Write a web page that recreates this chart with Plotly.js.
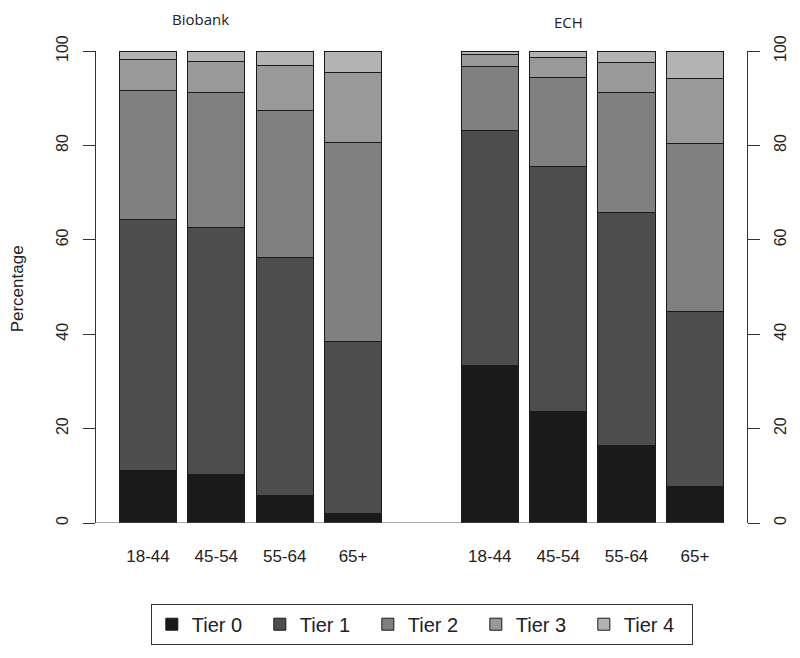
<!DOCTYPE html>
<html>
<head>
<meta charset="utf-8">
<script src="https://cdn.plot.ly/plotly-3.0.1.min.js"></script>
<style>html,body{margin:0;padding:0;background:#fff;}#chart{width:800px;height:658px;}</style>
</head>
<body>
<div id="chart"></div>
<script>
// ---- data (percentages) ----
const groups = ['Biobank', 'ECH'];
const ageGroups = ['18-44', '45-54', '55-64', '65+'];
const tierNames = ['Tier 0', 'Tier 1', 'Tier 2', 'Tier 3', 'Tier 4'];

// Biobank values per age group
const biobankTier0 = [11.2, 10.3, 5.9, 2.0];
const biobankTier1 = [53.2, 52.3, 50.3, 36.5];
const biobankTier2 = [27.3, 28.6, 31.2, 42.2];
const biobankTier3 = [6.5, 6.6, 9.6, 14.8];
const biobankTier4 = [1.8, 2.2, 3.0, 4.5];

// ECH values per age group
const echTier0 = [33.3, 23.7, 16.5, 7.8];
const echTier1 = [49.9, 51.9, 49.2, 37.1];
const echTier2 = [13.6, 18.8, 25.5, 35.5];
const echTier3 = [2.5, 4.3, 6.3, 13.8];
const echTier4 = [0.7, 1.3, 2.5, 5.8];

const yTicks = [0, 20, 40, 60, 80, 100];

// ---- styling ----
const tierColors = ['#1a1a1a', '#4d4d4d', '#808080', '#999999', '#b3b3b3'];
const font = 'Liberation Sans, Arial, sans-serif';
const inkColor = '#222222';

// bar positions: groups separated by one empty slot
const n = ageGroups.length;
const xPosBiobank = ageGroups.map((a, i) => i);
const xPosEch = ageGroups.map((a, i) => (n + 1) + i);
const xPos = xPosBiobank.concat(xPosEch);
const xText = ageGroups.concat(ageGroups);

const biobank = [biobankTier0, biobankTier1, biobankTier2, biobankTier3, biobankTier4];
const ech = [echTier0, echTier1, echTier2, echTier3, echTier4];

const barWidth = 0.838;
const traces = [];
tierNames.forEach((name, t) => {
  traces.push({
    type: 'bar', name: name, legendgroup: name,
    x: xPosBiobank, y: biobank[t], width: barWidth,
    xaxis: 'x', yaxis: 'y',
    marker: {color: tierColors[t], line: {color: '#1a1a1a', width: 1}},
    cliponaxis: false, hoverinfo: 'name+y'
  });
});
tierNames.forEach((name, t) => {
  traces.push({
    type: 'bar', name: name, legendgroup: name, showlegend: false,
    x: xPosEch, y: ech[t], width: barWidth,
    xaxis: 'x', yaxis: 'y2',
    marker: {color: tierColors[t], line: {color: '#1a1a1a', width: 1}},
    cliponaxis: false, hoverinfo: 'name+y'
  });
});

const xMin = -0.76, xMax = 8.762;

const yAxisCommon = {
  range: [0, 100],
  tickvals: yTicks,
  ticktext: yTicks.map(String),
  tickangle: -90,
  ticks: 'outside',
  ticklen: 12,
  tickwidth: 1,
  tickcolor: '#333',
  showline: true,
  linecolor: '#333',
  linewidth: 1,
  showgrid: false,
  zeroline: false,
  fixedrange: true,
  tickfont: {family: font, size: 16, color: inkColor}
};

const layout = {
  width: 800,
  height: 658,
  margin: {l: 96, r: 52.7, t: 50.7, b: 135.3},
  paper_bgcolor: '#ffffff',
  plot_bgcolor: '#ffffff',
  barmode: 'stack',
  bargap: 0,
  showlegend: true,
  xaxis: {
    range: [xMin, xMax],
    tickvals: xPos,
    ticktext: xText,
    ticks: '',
    showline: false,
    showgrid: false,
    zeroline: false,
    ticklabelstandoff: 21,
    tickfont: {family: font, size: 17, color: inkColor},
    fixedrange: true
  },
  yaxis: Object.assign({}, yAxisCommon, {side: 'left', ticklabelstandoff: 9}),
  yaxis2: Object.assign({}, yAxisCommon, {side: 'right', overlaying: 'y', anchor: 'x', ticklabelstandoff: 7}),
  legend: {
    orientation: 'h',
    x: 0.5005,
    xanchor: 'center',
    y: -0.171,
    yanchor: 'top',
    bordercolor: '#333',
    borderwidth: 1,
    traceorder: 'normal',
    font: {family: font, size: 20, color: inkColor},
    entrywidth: 63,
    itemwidth: 30
  },
  shapes: [{
    type: 'line', xref: 'x', yref: 'y',
    x0: xMin, x1: xPosEch[xPosEch.length - 1] + barWidth / 2, y0: 0, y1: 0,
    line: {color: '#555', width: 1}
  }],
  annotations: [
    {text: 'Percentage', textangle: -90, xref: 'paper', yref: 'paper', x: 17 / 800, y: (658 - 289) / 658,
     xanchor: 'center', yanchor: 'middle', showarrow: false, font: {family: font, size: 17, color: inkColor}},
    {text: groups[0], xref: 'paper', yref: 'paper', x: 201 / 800, y: (658 - 19) / 658,
     xanchor: 'center', yanchor: 'middle', showarrow: false, font: {family: 'Open Sans, sans-serif', size: 15, color: inkColor}},
    {text: groups[1], xref: 'paper', yref: 'paper', x: 569 / 800, y: (658 - 22) / 658,
     xanchor: 'center', yanchor: 'middle', showarrow: false, font: {family: 'Open Sans, sans-serif', size: 15, color: inkColor}}
  ]
};
// annotations positioned in full-page coordinates
layout.annotations.forEach(a => {
  const px = a.x * 800, py = (1 - a.y) * 658;
  a.x = (px - 96) / (800 - 96 - 52.7);
  a.y = (522.7 - py) / 472;
});

Plotly.newPlot('chart', traces, layout, {displayModeBar: false, staticPlot: true});
</script>
</body>
</html>
